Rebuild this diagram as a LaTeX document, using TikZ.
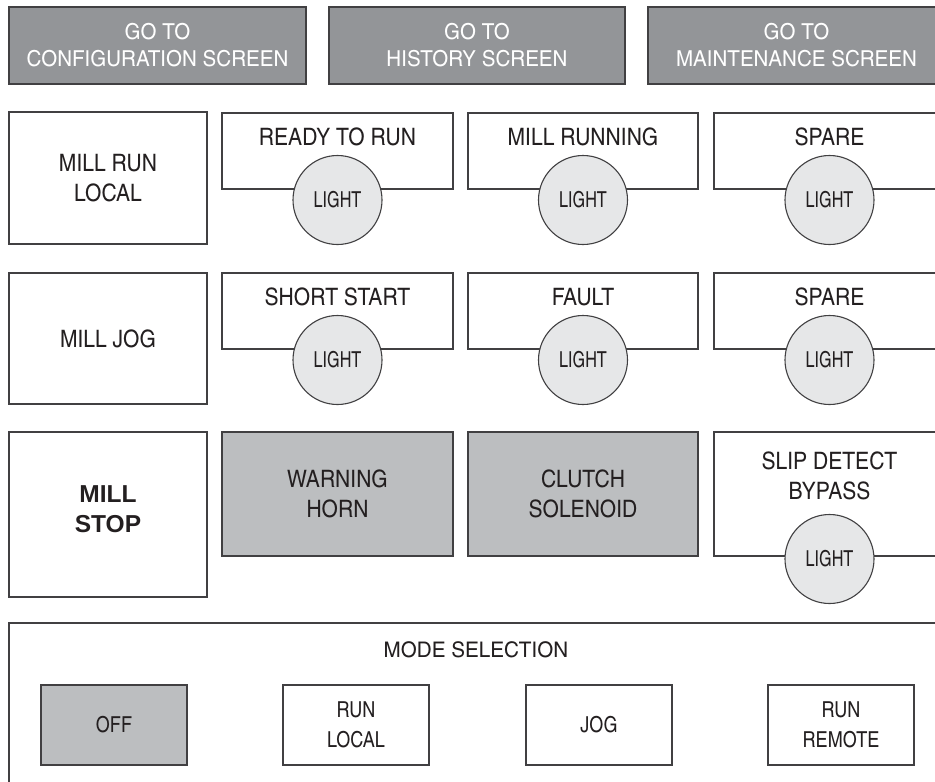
\documentclass[tikz,border=0pt]{standalone}
\usepackage{fontspec}
\setmainfont{Liberation Sans}
\newfontfamily\mainf[FakeStretch=1.07]{texgyreheroscn-regular.otf}
\newfontfamily\topf[FakeStretch=1.14]{texgyreheroscn-regular.otf}
\newfontfamily\lightf[FakeStretch=0.9]{texgyreheroscn-regular.otf}
\newfontfamily\modef{texgyreheroscn-regular.otf}
\newfontfamily\modetf[FakeStretch=1.17]{texgyreheroscn-regular.otf}
\newfontfamily\boldf{Liberation Sans}
\definecolor{topgray}{HTML}{939598}
\definecolor{midgray}{HTML}{BCBEC0}
\definecolor{lightgray}{HTML}{E6E7E8}
\definecolor{ink}{HTML}{231F20}
\definecolor{edge}{HTML}{414042}
\tikzset{
  base/.style={draw=edge, line width=1.1pt, inner sep=0pt, outer sep=0pt, align=center, text=ink},
  topbtn/.style={base, fill=topgray, text=white, minimum height=77pt,
     font={\topf\fontsize{22}{27}\selectfont}},
  bigbox/.style={base, fill=white, font={\mainf\fontsize{24}{30}\selectfont}},
  grayact/.style={base, fill=midgray, font={\mainf\fontsize{24}{30}\selectfont}},
  lampbox/.style={base, fill=white, minimum width=231pt},
  lamptitle/.style={inner sep=0pt, text=ink, align=center, font={\mainf\fontsize{24}{30}\selectfont}},
  lamp/.style={base, circle, fill=lightgray, minimum size=89pt, font={\lightf\fontsize{22}{26}\selectfont}},
  modebtn/.style={base, minimum width=146pt, minimum height=80pt, font={\modef\fontsize{22}{29.5}\selectfont}},
}
\begin{document}
\begin{tikzpicture}[x=1pt, y=-1pt]
\useasboundingbox (0,0) rectangle (935,782);
\clip (0,0) rectangle (935,782);
% top navigation buttons
\node[topbtn, minimum width=297pt] (cfg) at (157.5,45.5) {GO TO\\CONFIGURATION SCREEN};
\node[topbtn, minimum width=296pt] (hist) at (477,45.5) {GO TO\\HISTORY SCREEN};
\node[topbtn, minimum width=297pt] (maint) at (796.5,45.5) {GO TO\\MAINTENANCE SCREEN};
% row 1
\node[bigbox, minimum width=198pt, minimum height=132pt] (runlocal) at (108,178) {MILL RUN\\LOCAL};
\node[lampbox, minimum height=76pt] (ready) at (337.5,151) {};
\node[lampbox, minimum width=230pt, minimum height=76pt] (running) at (583,151) {};
\node[lampbox, minimum height=76pt] (spare1) at (829.5,151) {};
\node[lamptitle] (readyt) at (337.5,137) {READY TO RUN};
\node[lamptitle] (runningt) at (583,137) {MILL RUNNING};
\node[lamptitle] (spare1t) at (829.5,137) {SPARE};
\node[lamp] (readyl) at (337.5,200) {LIGHT};
\node[lamp] (runningl) at (583,200) {LIGHT};
\node[lamp] (spare1l) at (829.5,200) {LIGHT};
% row 2
\node[bigbox, minimum width=198pt, minimum height=131pt] (jog) at (108,338.5) {MILL JOG};
\node[lampbox, minimum height=76pt] (short) at (337.5,311) {};
\node[lampbox, minimum width=230pt, minimum height=76pt] (fault) at (583,311) {};
\node[lampbox, minimum height=76pt] (spare2) at (829.5,311) {};
\node[lamptitle] (shortt) at (337.5,297) {SHORT START};
\node[lamptitle] (faultt) at (583,297) {FAULT};
\node[lamptitle] (spare2t) at (829.5,297) {SPARE};
\node[lamp] (shortl) at (337.5,360) {LIGHT};
\node[lamp] (faultl) at (583,360) {LIGHT};
\node[lamp] (spare2l) at (829.5,360) {LIGHT};
% row 3
\node[bigbox, minimum width=198pt, minimum height=165pt] (stop) at (108,514.5) {};
\node[inner sep=0pt, align=center, text=ink, font={\boldf\bfseries\fontsize{24.5}{30.5}\selectfont}] (stopt) at (108,509) {MILL\\STOP};
\node[grayact, minimum width=231pt, minimum height=124pt] (horn) at (337.5,494) {WARNING\\HORN};
\node[grayact, minimum width=230pt, minimum height=124pt] (clutch) at (583,494) {CLUTCH\\SOLENOID};
\node[lampbox, minimum height=124pt] (slip) at (829.5,494) {};
\node[lamptitle] (slipt) at (829.5,476) {SLIP DETECT\\BYPASS};
\node[lamp] (slipl) at (829.5,559) {LIGHT};
% mode selection
\node[base, fill=white, minimum width=936pt, minimum height=180pt] (mode) at (477,713) {};
\node[inner sep=0pt, text=ink, font={\modetf\fontsize{21.5}{26}\selectfont}] (modet) at (476,649.5) {MODE SELECTION};
\node[modebtn, fill=midgray] (off) at (114,725) {OFF};
\node[modebtn, fill=white] (rlocal) at (356,725) {RUN\\LOCAL};
\node[modebtn, fill=white] (mjog) at (599,725) {JOG};
\node[modebtn, fill=white] (rremote) at (841,725) {RUN\\REMOTE};
\end{tikzpicture}
\end{document}
